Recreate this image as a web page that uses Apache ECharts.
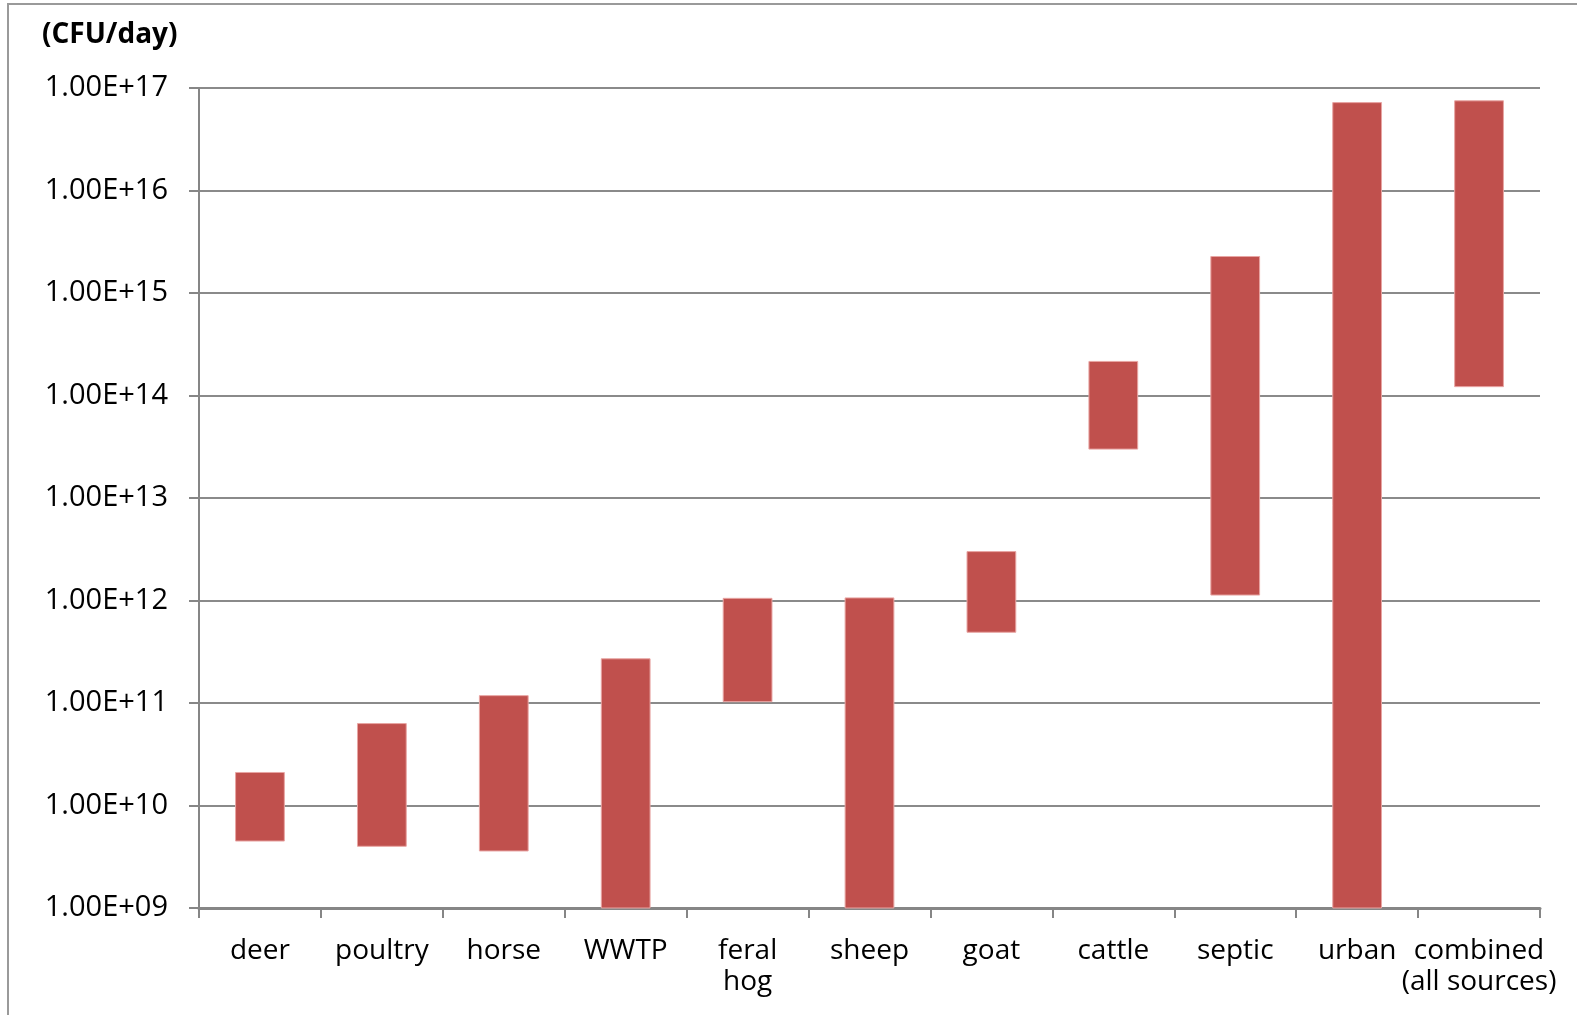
<!DOCTYPE html>
<html>
<head>
<meta charset="utf-8">
<script src="https://cdn.jsdelivr.net/npm/echarts@6/dist/echarts.min.js"></script>
<style>
  html, body { margin: 0; padding: 0; background: #fff; }
  #chart { width: 1577px; height: 1015px; }
</style>
</head>
<body>
<div id="chart"></div>
<script>
  // sources and their daily load range (CFU/day)
  const categories = ['deer', 'poultry', 'horse', 'WWTP', 'feral\nhog', 'sheep', 'goat', 'cattle', 'septic', 'urban', 'combined\n(all sources)'];
  const lowValues  = [4.5e9, 4.0e9, 3.6e9, 1e9, 1.03e11, 1e9, 4.9e11, 3.0e13, 1.13e12, 1e9, 1.22e14];
  const highValues = [2.1e10, 6.3e10, 1.18e11, 2.7e11, 1.05e12, 1.06e12, 3.0e12, 2.15e14, 2.27e15, 7.2e16, 7.5e16];

  const chart = echarts.init(document.getElementById('chart'));

  function sciLabel(v) {
    // 1.00E+17 style, like the spreadsheet
    const exp = Math.round(Math.log10(v));
    const mant = (v / Math.pow(10, exp)).toFixed(2);
    return mant + 'E+' + (exp < 10 ? '0' + exp : exp);
  }

  const seriesData = categories.map((c, i) => [i, lowValues[i], highValues[i]]);

  const option = {
    animation: false,
    backgroundColor: '#fff',
    title: {
      text: '(CFU/day)',
      left: 37,
      top: 16,
      textStyle: { fontFamily: 'Open Sans', fontSize: 28, fontWeight: 'bold', color: '#000' }
    },
    graphic: [{
      type: 'rect',
      shape: { x: 8, y: 4, width: 1620, height: 1100 },
      style: { fill: 'none', stroke: '#9a9a9a', lineWidth: 2 },
      silent: true
    }],
    grid: { left: 199, right: 37, top: 88, bottom: 107 },
    xAxis: {
      type: 'category',
      data: categories,
      boundaryGap: true,
      axisLine: { lineStyle: { color: '#868686', width: 3 } },
      axisTick: { show: true, length: 10, lineStyle: { color: '#868686', width: 2 } },
      axisLabel: {
        interval: 0,
        margin: 28,
        fontFamily: 'Open Sans',
        fontSize: 28,
        lineHeight: 31,
        color: '#000'
      },
      splitLine: { show: false }
    },
    yAxis: {
      type: 'log',
      logBase: 10,
      min: 1e9,
      max: 1e17,
      interval: 1,
      axisLine: { show: true, lineStyle: { color: '#868686', width: 2 } },
      axisTick: { show: true, length: 10, lineStyle: { color: '#868686', width: 2 } },
      axisLabel: {
        margin: 31,
        fontFamily: 'Open Sans',
        fontSize: 29,
        color: '#000',
        formatter: sciLabel
      },
      splitLine: { show: true, lineStyle: { color: '#8a8a8a', width: 2 } }
    },
    series: [{
      type: 'custom',
      data: seriesData,
      encode: { x: 0, y: [1, 2] },
      renderItem: function (params, api) {
        const idx = api.value(0);
        const lo = api.coord([idx, api.value(1)]);
        const hi = api.coord([idx, api.value(2)]);
        const w = api.size([1, 1])[0] * 0.4;
        return {
          type: 'rect',
          shape: { x: lo[0] - w / 2, y: hi[1], width: w, height: lo[1] - hi[1] },
          style: { fill: '#c0504d', stroke: '#e8a5a3', lineWidth: 1 }
        };
      }
    }]
  };

  chart.setOption(option);
</script>
</body>
</html>
